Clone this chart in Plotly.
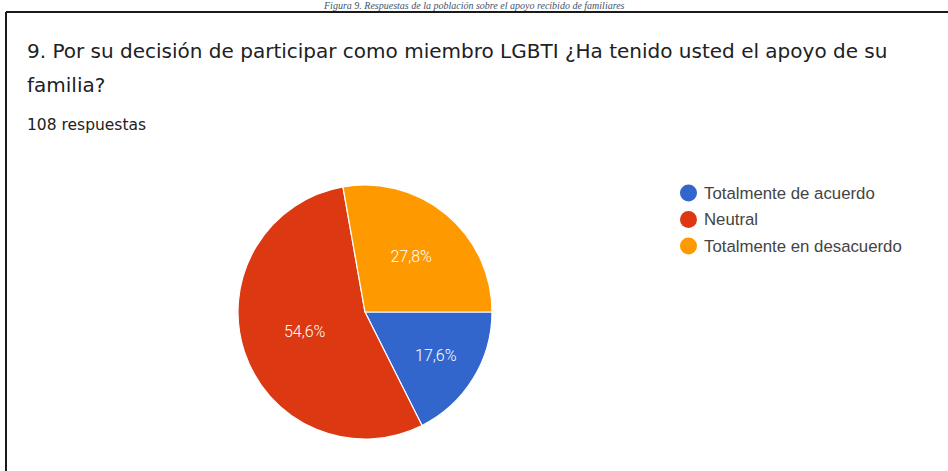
import plotly.graph_objects as go

# Survey question 9: family support for LGBTI participation (108 responses)
categories = ["Totalmente de acuerdo", "Neutral", "Totalmente en desacuerdo"]
counts = [19, 59, 30]
colors = ["#3366CC", "#DC3912", "#FF9900"]

caption = "Figura 9. Respuestas de la población sobre el apoyo recibido de familiares"
question_lines = [
    "9. Por su decisión de participar como miembro LGBTI ¿Ha tenido usted el apoyo de su",
    "familia?",
]
n_responses = "108 respuestas"

W, H = 948, 471

fig = go.Figure(
    go.Pie(
        labels=categories,
        values=counts,
        sort=False,
        direction="clockwise",
        rotation=90,
        marker=dict(colors=colors, line=dict(color="#FFFFFF", width=1.2)),
        texttemplate="%{percent:.1%}",
        textposition="inside",
        insidetextorientation="horizontal",
        textfont=dict(family="Roboto, Arial, sans-serif", size=16, color="#FFFFFF", weight=300),
        showlegend=False,
        hoverinfo="label+percent",
        domain=dict(x=[238 / W, 492 / W], y=[(H - 439) / H, (H - 185) / H]),
    )
)

title_font = dict(family="DejaVu Sans, sans-serif", size=20, color="#202124")
annotations = [
    # figure caption in the narrow strip above the card
    dict(text="<i>" + caption + "</i>", x=0.5, y=1, xref="paper", yref="paper",
         xanchor="center", yanchor="middle", yshift=-5.5, showarrow=False,
         font=dict(family="Liberation Serif, Times New Roman, serif", size=10, color="#44546A")),
    dict(text=question_lines[0], x=25, y=H - 51, xref="x", yref="y",
         xanchor="left", yanchor="middle", showarrow=False, font=title_font),
    dict(text=question_lines[1], x=25, y=H - 85, xref="x", yref="y",
         xanchor="left", yanchor="middle", showarrow=False, font=title_font),
    dict(text=n_responses, x=25, y=H - 125, xref="x", yref="y",
         xanchor="left", yanchor="middle", showarrow=False,
         font=dict(family="DejaVu Sans, sans-serif", size=15.5, color="#202124")),
]

shapes = [
    # frame around the chart card
    dict(type="line", x0=6, x1=W + 5, y0=H - 12, y1=H - 12, line=dict(color="#1a1a1a", width=2)),
    dict(type="line", x0=6, x1=6, y0=H - 12, y1=-5, line=dict(color="#1a1a1a", width=2)),
]

# legend built from the categories: coloured dot + label
leg_x, leg_y0, leg_step, dot_r = 688.5, H - 193, 26.5, 8.5
for i, (cat, col) in enumerate(zip(categories, colors)):
    yy = leg_y0 - i * leg_step
    shapes.append(dict(type="circle", x0=leg_x - dot_r, x1=leg_x + dot_r,
                       y0=yy - dot_r, y1=yy + dot_r, fillcolor=col, line=dict(width=0)))
    annotations.append(dict(text=cat, x=leg_x + dot_r + 5, y=yy, xanchor="left", yanchor="middle",
                            showarrow=False, xref="x", yref="y",
                            font=dict(family="Liberation Sans, Arial, sans-serif", size=16.8,
                                      color="#444444")))

fig.update_layout(
    width=W, height=H,
    margin=dict(l=0, r=0, t=0, b=0),
    paper_bgcolor="#FFFFFF",
    plot_bgcolor="rgba(0,0,0,0)",
    separators=",.",
    xaxis=dict(range=[0, W], visible=False, fixedrange=True),
    yaxis=dict(range=[0, H], visible=False, fixedrange=True),
    annotations=annotations,
    shapes=shapes,
)

fig.write_html("out.html")
